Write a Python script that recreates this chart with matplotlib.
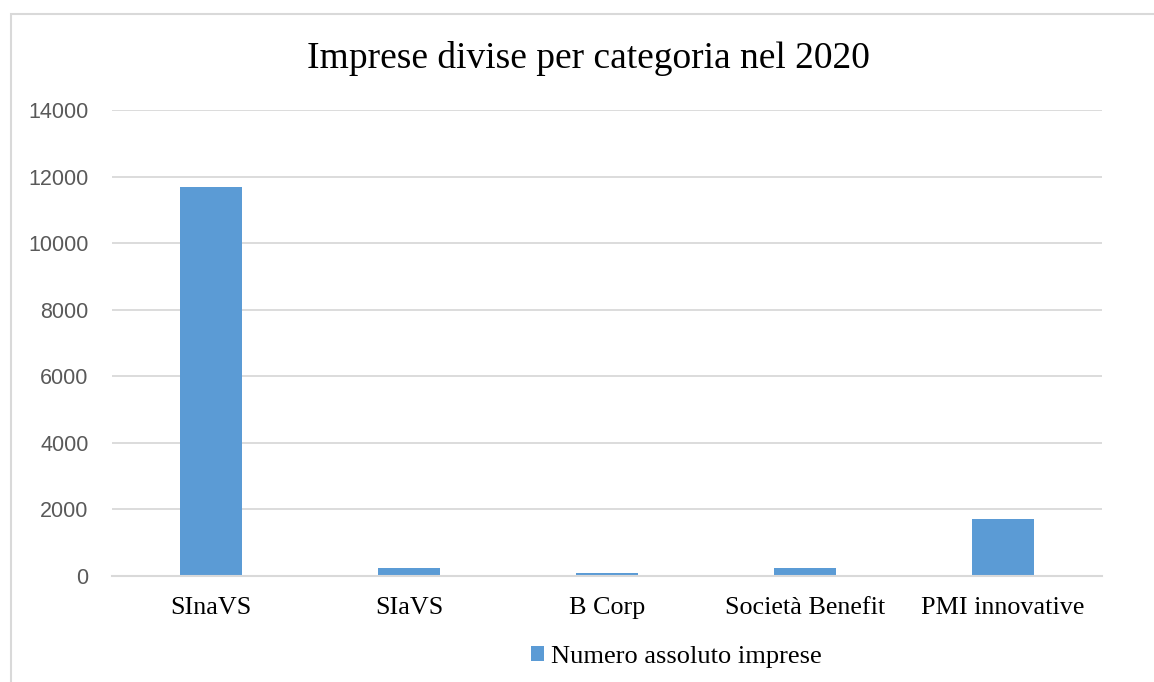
import matplotlib.pyplot as plt
import matplotlib.patches as mpatches
import numpy as np

# ---- dati ----
categorie = ["SInaVS", "SIaVS", "B Corp", "Società Benefit", "PMI innovative"]
imprese = [11700, 250, 85, 250, 1710]
y_ticks = [0, 2000, 4000, 6000, 8000, 10000, 12000, 14000]

serif = ["Liberation Serif", "DejaVu Serif"]
sans = ["Liberation Sans", "DejaVu Sans"]

W, H = 1154, 682
fig = plt.figure(figsize=(W / 100, H / 100), dpi=100)
ax = fig.add_axes([112 / W, 1 - 576 / H, (1102 - 112) / W, (576 - 110) / H])

x = np.arange(len(categorie))
ax.bar(x, imprese, width=0.31, color="#5b9bd5", zorder=3,
       label="Numero assoluto imprese")

ax.set_xlim(-0.5, len(categorie) - 0.5)
ax.set_ylim(0, 14000)
ax.set_yticks(y_ticks)
ax.set_yticklabels([str(v) for v in y_ticks], family=sans, fontsize=15.5, color="#595959")
ax.set_xticks(x)
ax.set_xticklabels(categorie, family=serif, fontsize=18.8, color="black")
ax.tick_params(axis="y", length=0, pad=17)
ax.tick_params(axis="x", length=0, pad=15)

ax.grid(axis="y", color="#d9d9d9", linewidth=1.3, zorder=0)
for s in ["top", "right", "left"]:
    ax.spines[s].set_visible(False)
ax.spines["bottom"].set_color("#d9d9d9")
ax.spines["bottom"].set_linewidth(1.5)
ax.spines["bottom"].set_zorder(4)

# titolo
fig.text(588 / W, 1 - 59 / H, "Imprese divise per categoria nel 2020",
         family=serif, fontsize=27, ha="center", va="center")

# legenda
fig.legend(loc="center", bbox_to_anchor=(676 / W, 1 - 657 / H), frameon=False,
           prop={"family": serif, "size": 19}, handlelength=0.5, handleheight=0.5,
           handletextpad=0.25)

# cornice esterna (tagliata a destra e in basso)
fig.patches.append(mpatches.Rectangle((10.5 / W, -0.05), 1.2, 1 - 13.5 / H + 0.05,
                                      transform=fig.transFigure, fill=False,
                                      edgecolor="#d9d9d9", linewidth=1.5))

plt.savefig("out.png", dpi=100)
